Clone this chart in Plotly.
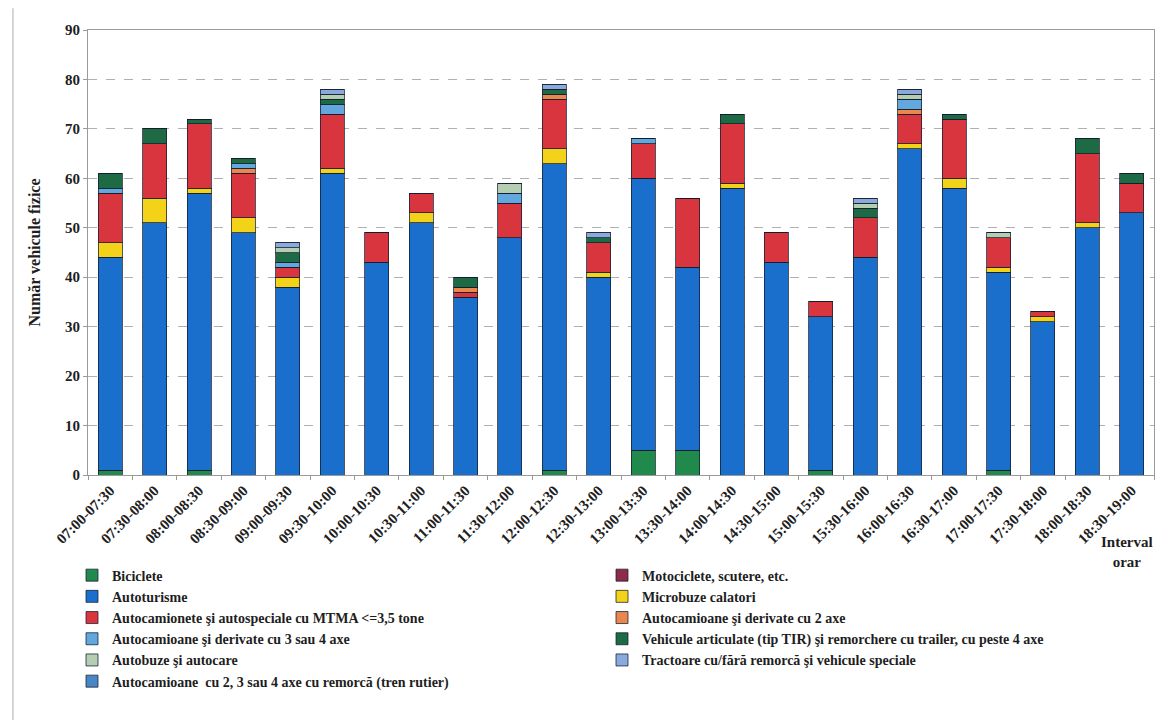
import plotly.graph_objects as go

categories = ["07:00-07:30", "07:30-08:00", "08:00-08:30", "08:30-09:00", "09:00-09:30", "09:30-10:00",
              "10:00-10:30", "10:30-11:00", "11:00-11:30", "11:30-12:00", "12:00-12:30", "12:30-13:00",
              "13:00-13:30", "13:30-14:00", "14:00-14:30", "14:30-15:00", "15:00-15:30", "15:30-16:00",
              "16:00-16:30", "16:30-17:00", "17:00-17:30", "17:30-18:00", "18:00-18:30", "18:30-19:00"]

biciclete      = [1, 0, 1, 0, 0, 0, 0, 0, 0, 0, 1, 0, 5, 5, 0, 0, 1, 0, 0, 0, 1, 0, 0, 0]
motociclete    = [0, 0, 0, 0, 0, 0, 0, 0, 0, 0, 0, 0, 0, 0, 0, 0, 0, 0, 0, 0, 0, 0, 0, 0]
autoturisme    = [43, 51, 56, 49, 38, 61, 43, 51, 36, 48, 62, 40, 55, 37, 58, 43, 31, 44, 66, 58, 40, 31, 50, 53]
microbuze      = [3, 5, 1, 3, 2, 1, 0, 2, 0, 0, 3, 1, 0, 0, 1, 0, 0, 0, 1, 2, 1, 1, 1, 0]
autocamionete  = [10, 11, 13, 9, 2, 11, 6, 4, 1, 7, 10, 6, 7, 14, 12, 6, 3, 8, 6, 12, 6, 1, 14, 6]
camioane_2axe  = [0, 0, 0, 1, 0, 0, 0, 0, 1, 0, 1, 0, 0, 0, 0, 0, 0, 0, 1, 0, 0, 0, 0, 0]
camioane_34axe = [1, 0, 0, 1, 1, 2, 0, 0, 0, 2, 0, 0, 1, 0, 0, 0, 0, 0, 2, 0, 0, 0, 0, 0]
articulate     = [3, 3, 1, 1, 2, 1, 0, 0, 2, 0, 1, 1, 0, 0, 2, 0, 0, 2, 0, 1, 0, 0, 3, 2]
autobuze       = [0, 0, 0, 0, 1, 1, 0, 0, 0, 2, 0, 0, 0, 0, 0, 0, 0, 1, 1, 0, 1, 0, 0, 0]
tractoare      = [0, 0, 0, 0, 1, 1, 0, 0, 0, 0, 1, 1, 0, 0, 0, 0, 0, 1, 1, 0, 0, 0, 0, 0]
tren_rutier    = [0, 0, 0, 0, 0, 0, 0, 0, 0, 0, 0, 0, 0, 0, 0, 0, 0, 0, 0, 0, 0, 0, 0, 0]

series = [
    ("Biciclete", biciclete, "#1f8a4c"),
    ("Motociclete, scutere, etc.", motociclete, "#8e2a4a"),
    ("Autoturisme", autoturisme, "#1a6fcc"),
    ("Microbuze calatori", microbuze, "#f3d21a"),
    ("Autocamionete şi autospeciale cu MTMA <=3,5 tone", autocamionete, "#d8353f"),
    ("Autocamioane şi derivate cu 2 axe", camioane_2axe, "#e8884e"),
    ("Autocamioane şi derivate cu 3 sau 4 axe", camioane_34axe, "#62a8de"),
    ("Vehicule articulate (tip TIR) şi remorchere cu trailer, cu peste 4 axe", articulate, "#1d6a45"),
    ("Autobuze şi autocare", autobuze, "#b5cdb0"),
    ("Tractoare cu/fără remorcă şi vehicule speciale", tractoare, "#8aa9dc"),
    ("Autocamioane  cu 2, 3 sau 4 axe cu remorcă (tren rutier)", tren_rutier, "#4a86c5"),
]

FONT = "Liberation Serif"
TXT = "#1e1e1e"

fig = go.Figure()
for name, vals, col in series:
    fig.add_trace(go.Bar(
        x=categories, y=vals, name=name,
        marker=dict(color=col, line=dict(color="rgba(20,30,45,0.75)", width=1)),
    ))

fig.update_layout(
    width=1168, height=720,
    barmode="stack", bargap=0.46,
    paper_bgcolor="white", plot_bgcolor="white",
    margin=dict(l=80, r=22, t=22, b=253, autoexpand=False),
    font=dict(family=FONT, size=13, color=TXT),
    showlegend=True,
    legend=dict(
        orientation="h", x=-0.015, xanchor="left", y=-0.19, yanchor="top",
        entrywidth=485, entrywidthmode="pixels", traceorder="normal",
        font=dict(family=FONT, size=14, color=TXT, weight="bold"),
        itemwidth=30, tracegroupgap=0, bgcolor="rgba(0,0,0,0)",
    ),
    xaxis=dict(
        tickangle=-45, tickfont=dict(family=FONT, size=15, color=TXT, weight="bold"),
        showline=True, linecolor="#9a9a9a", linewidth=1, mirror=True,
        ticks="outside", ticklen=4, tickcolor="#9a9a9a", tickson="boundaries",
        showgrid=False,
    ),
    yaxis=dict(
        range=[0, 90], dtick=10, tickfont=dict(family=FONT, size=15, color=TXT, weight="bold"),
        showline=True, linecolor="#9a9a9a", linewidth=1, mirror=True,
        ticks="outside", ticklen=4, tickcolor="#9a9a9a",
        showgrid=True, gridcolor="#b0b0b0", griddash="dash", gridwidth=1,
        title=dict(text="Număr vehicule fizice", font=dict(family=FONT, size=16, color=TXT, weight="bold"), standoff=20),
        zeroline=False,
    ),
)

fig.add_annotation(
    text="Interval<br>orar", xref="paper", yref="paper",
    x=0.975, y=-0.127, xanchor="center", yanchor="top", showarrow=False,
    font=dict(family=FONT, size=15, color=TXT, weight="bold"), align="center",
)

fig.add_shape(type="line", xref="paper", yref="paper",
              x0=-0.0704, x1=-0.0704, y0=-0.569, y1=1.049,
              line=dict(color="#c8c8c8", width=1.5))

fig.write_html("out.html")
